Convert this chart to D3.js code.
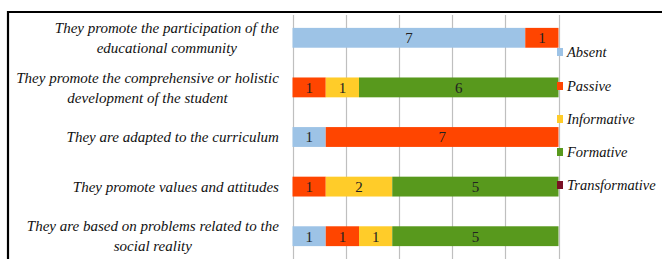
<!DOCTYPE html>
<html><head><meta charset="utf-8">
<script src="https://cdn.jsdelivr.net/npm/d3@7"></script>
<style>body{margin:0;background:#fff;}svg{display:block;}</style>
</head><body>
<svg id="chart" width="662" height="259"></svg>
<script>
const categories = [
  ["They promote the participation of the", "educational community"],
  ["They promote the comprehensive or holistic", "development of the student"],
  ["They are adapted to the curriculum"],
  ["They promote values and attitudes"],
  ["They are based on problems related to the", "social reality"]
];
const seriesNames = ["Absent", "Passive", "Informative", "Formative", "Transformative"];
const seriesColors = ["#9DC3E6", "#FF4500", "#FFCC29", "#58991D", "#7B1024"];
const absent = [7, 0, 1, 0, 1];
const passive = [1, 1, 7, 1, 1];
const informative = [0, 1, 0, 2, 1];
const formative = [0, 6, 0, 5, 5];
const transformative = [0, 0, 0, 0, 0];
const gridTicks = [0, 0.2, 0.4, 0.6, 0.8, 1.0];

const svg = d3.select("#chart");
const seriesVals = [absent, passive, informative, formative, transformative];
const rows = categories.map((c, i) => {
  const r = {idx: i};
  seriesNames.forEach((s, j) => r[s] = seriesVals[j][i]);
  r.total = seriesNames.reduce((a, s) => a + r[s], 0);
  return r;
});
const stacked = d3.stack().keys(seriesNames)
  .value((d, k) => d[k] / d.total)(rows);

const x = d3.scaleLinear().domain([0, 1]).range([292.5, 558.5]);
const y = d3.scaleBand().domain(d3.range(categories.length)).range([13, 261]).paddingInner(0.6).paddingOuter(0.3);

// frame
svg.append("line").attr("x1", 8).attr("x2", 662).attr("y1", 12).attr("y2", 12).attr("stroke", "#000").attr("stroke-width", 2.2);
svg.append("line").attr("x1", 8).attr("x2", 8).attr("y1", 11).attr("y2", 259).attr("stroke", "#000").attr("stroke-width", 2.2);

// grid
svg.append("g").selectAll("line").data(gridTicks).join("line")
  .attr("x1", d => Math.round(x(d)) + 0.5).attr("x2", d => Math.round(x(d)) + 0.5)
  .attr("y1", 15).attr("y2", 259)
  .attr("stroke", "#BFBFBF").attr("stroke-width", 1.2);

// bars
const g = svg.append("g");
stacked.forEach((layer, j) => {
  g.selectAll(null).data(layer.map((d, i) => ({d, i}))).join("rect")
    .filter(o => o.d[1] > o.d[0])
    .attr("x", o => x(o.d[0])).attr("width", o => x(o.d[1]) - x(o.d[0]))
    .attr("y", o => y(o.i)).attr("height", y.bandwidth())
    .attr("fill", seriesColors[j]);
  g.selectAll(null).data(layer.map((d, i) => ({d, i}))).join("text")
    .filter(o => o.d[1] > o.d[0])
    .attr("x", o => (x(o.d[0]) + x(o.d[1])) / 2)
    .attr("y", o => y(o.i) + y.bandwidth() / 2)
    .attr("dy", "0.36em")
    .attr("text-anchor", "middle")
    .attr("font-family", "Liberation Serif, serif")
    .attr("font-size", 15)
    .attr("fill", "#222")
    .text(o => rows[o.i][seriesNames[j]]);
});

// category labels
const lab = svg.append("g");
categories.forEach((lines, i) => {
  const cy = y(i) + y.bandwidth() / 2;
  const t = lab.append("text")
    .attr("font-family", "Liberation Serif, serif")
    .attr("font-style", "italic")
    .attr("font-size", 15)
    .attr("fill", "#111")
    .attr("text-anchor", "middle");
  const n = lines.length;
  lines.forEach((l, k) => {
    t.append("tspan").attr("x", 0).attr("y", cy + (k - (n - 1) / 2) * 20).attr("dy", "0.35em").text(l);
  });
  const bb = t.node().getBBox();
  t.attr("transform", `translate(${279 - bb.width / 2},0)`);
});

// legend
const leg = svg.append("g");
const legY = [52, 86, 119, 152, 185];
seriesNames.forEach((s, j) => {
  leg.append("rect").attr("x", 557).attr("y", legY[j] - 4).attr("width", 6).attr("height", 8).attr("fill", seriesColors[j]);
  leg.append("text").attr("x", 567).attr("y", legY[j]).attr("dy", "0.35em")
    .attr("font-family", "Liberation Serif, serif").attr("font-style", "italic")
    .attr("font-size", 14.5).attr("fill", "#111").text(s);
});
</script>
</body></html>
